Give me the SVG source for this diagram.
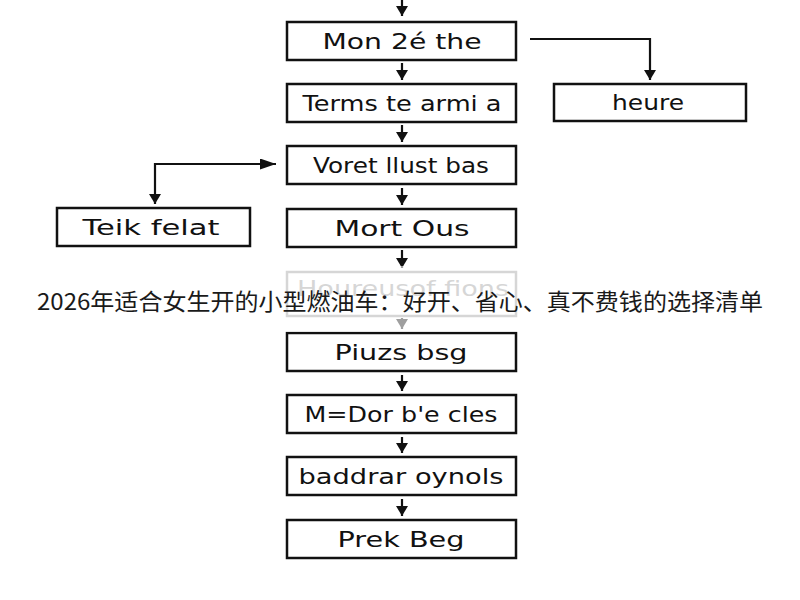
<svg xmlns="http://www.w3.org/2000/svg" width="800" height="600" viewBox="0 0 800 600">
<defs>
<marker id="ah" viewBox="0 0 10 12" refX="10" refY="6" markerWidth="10" markerHeight="12" markerUnits="userSpaceOnUse" orient="auto">
<path d="M0,0 L10,6 L0,12 z" fill="#111"/>
</marker>
<marker id="ahs" viewBox="0 0 16 11" refX="16" refY="5.5" markerWidth="16" markerHeight="11" markerUnits="userSpaceOnUse" orient="auto-start-reverse">
<path d="M0,0 L16,5.5 L0,11 z" fill="#111"/>
</marker>
</defs>
<style>
.box{fill:#fff;stroke:#111;stroke-width:2.5}
.lbl{font-family:"DejaVu Sans","Liberation Sans",sans-serif;font-size:22px;fill:#111;text-anchor:middle}
.c{fill:none;stroke:#111;stroke-width:2.2}
.faded .box{stroke:#999}
.faded .lbl{fill:#999}
.cap{font-family:"Noto Sans CJK SC","Noto Sans",sans-serif;font-size:23px;fill:#1a1a1a;text-anchor:middle}
</style>
<rect width="800" height="600" fill="#fff"/>
<g id="connectors">
<line class="c" x1="402" y1="0" x2="402" y2="16" marker-end="url(#ah)"/>
<line class="c" x1="402" y1="63" x2="402" y2="80" marker-end="url(#ah)"/>
<line class="c" x1="402" y1="125" x2="402" y2="142" marker-end="url(#ah)"/>
<line class="c" x1="402" y1="188" x2="402" y2="205" marker-end="url(#ah)"/>
<line class="c" x1="402" y1="250" x2="402" y2="268" marker-end="url(#ah)"/>
<line class="c" x1="402" y1="318" x2="402" y2="329" marker-end="url(#ah)"/>
<line class="c" x1="402" y1="375" x2="402" y2="391" marker-end="url(#ah)"/>
<line class="c" x1="402" y1="437" x2="402" y2="453" marker-end="url(#ah)"/>
<line class="c" x1="402" y1="499" x2="402" y2="516" marker-end="url(#ah)"/>
<polyline class="c" points="530,39 650,39 650,80" marker-end="url(#ah)"/>
<polyline class="c" points="276,164 155,164 155,204" marker-start="url(#ahs)" marker-end="url(#ah)"/>
</g>
<g id="n1"><rect class="box" x="287" y="22" width="229" height="38"/><text class="lbl" x="402" y="49" textLength="159" lengthAdjust="spacingAndGlyphs">Mon 2é the</text></g>
<g id="n2"><rect class="box" x="287" y="84" width="229" height="38"/><text class="lbl" x="402" y="111" textLength="199" lengthAdjust="spacingAndGlyphs">Terms te armi a</text></g>
<g id="n3"><rect class="box" x="287" y="146" width="229" height="38"/><text class="lbl" x="401" y="173" textLength="176" lengthAdjust="spacingAndGlyphs">Voret llust bas</text></g>
<g id="n4"><rect class="box" x="287" y="209" width="229" height="38"/><text class="lbl" x="402" y="236" textLength="135" lengthAdjust="spacingAndGlyphs">Mort Ous</text></g>
<g id="n5" class="faded"><rect class="box" x="287" y="272" width="229" height="44"/><text class="lbl" x="403" y="296" textLength="212" lengthAdjust="spacingAndGlyphs">Houreusof fions</text></g>
<g id="n6"><rect class="box" x="287" y="333" width="229" height="38"/><text class="lbl" x="401" y="360" textLength="133" lengthAdjust="spacingAndGlyphs">Piuzs bsg</text></g>
<g id="n7"><rect class="box" x="287" y="395" width="229" height="38"/><text class="lbl" x="401" y="422" textLength="193" lengthAdjust="spacingAndGlyphs">M=Dor b'e cles</text></g>
<g id="n8"><rect class="box" x="287" y="457" width="229" height="38"/><text class="lbl" x="401" y="484" textLength="205" lengthAdjust="spacingAndGlyphs">baddrar oynols</text></g>
<g id="n9"><rect class="box" x="287" y="520" width="229" height="38"/><text class="lbl" x="401" y="547" textLength="127" lengthAdjust="spacingAndGlyphs">Prek Beg</text></g>
<g id="n10"><rect class="box" x="554" y="84" width="192" height="37"/><text class="lbl" x="648" y="110" textLength="72" lengthAdjust="spacingAndGlyphs">heure</text></g>
<g id="n11"><rect class="box" x="57" y="208" width="193" height="38"/><text class="lbl" x="151" y="235" textLength="137" lengthAdjust="spacingAndGlyphs">Teik felat</text></g>
<rect x="0" y="266" width="800" height="66" fill="#fff" opacity="0.6"/>
<text class="cap" x="400" y="310" textLength="726" lengthAdjust="spacingAndGlyphs">2026年适合女生开的小型燃油车：好开、省心、真不费钱的选择清单</text>
</svg>
